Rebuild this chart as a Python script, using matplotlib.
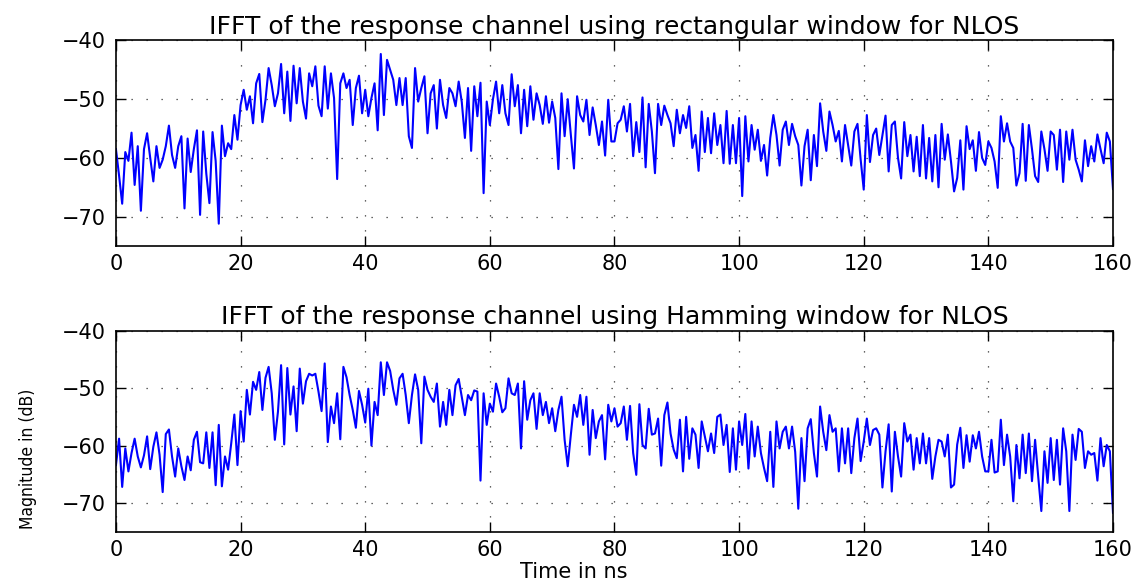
import numpy as np
import matplotlib
matplotlib.use("Agg")
import matplotlib.pyplot as plt

# ---- data (dB), sampled every 0.5 ns from 0 to 160 ns ----
rect_db = [
    -58.5, -63, -67.8, -59, -60.5, -55.7, -64.6, -58, -69, -58.5,
    -55.8, -60, -64, -58, -61.7, -60.3, -58, -54.5, -59.5, -61.7,
    -58, -56.3, -68.6, -56.7, -62.4, -58.5, -55.3, -69.7, -55.5, -62.7,
    -67.7, -55.6, -60.5, -71.2, -54.5, -59.7, -57.5, -58.5, -52.7, -56.9,
    -51, -48.4, -51.8, -49.5, -54.1, -47.3, -45.7, -53.9, -50.1, -44.7,
    -47.6, -51.2, -49, -44, -52.4, -45.3, -53.7, -44.3, -50.7, -44.7,
    -50.4, -53.3, -45.6, -47.8, -44.4, -51.1, -52.9, -44.4, -51.6, -45.6,
    -49.8, -63.6, -47.3, -45.6, -48.1, -46.7, -54.4, -48.1, -46, -52.4,
    -48.4, -52.9, -49.8, -47.3, -55.3, -42.3, -52.7, -43.3, -45, -46.7,
    -51, -46.4, -51, -46.4, -56.3, -58.3, -44.7, -50.4, -48.1, -46.1,
    -55.8, -49, -47.6, -55, -46.7, -51, -53.2, -48.1, -49, -51.2,
    -47, -50.5, -56.6, -48.1, -58.8, -47.8, -52.9, -47.2, -66, -50.4,
    -54.4, -50, -47, -52.4, -47.6, -52.4, -54.4, -45.75, -51.2, -47.6,
    -55.8, -48.4, -54.6, -47.8, -53.5, -49, -51, -54.2, -49.5, -54,
    -50.4, -53.2, -61.9, -49, -56.3, -50, -56.1, -61.8, -49.5, -52.7,
    -53.8, -50.1, -56.1, -51.4, -54.4, -57.8, -53.8, -59.6, -50.1, -57.2,
    -57.2, -54.1, -53.5, -51.2, -55.5, -50.8, -59.7, -53.9, -59, -49.7,
    -61.6, -50.8, -55.5, -62.6, -50.8, -54.4, -51.1, -52.7, -54.1, -58,
    -51.8, -55.8, -52.7, -54.9, -51.2, -58.3, -56.1, -62.2, -52.1, -59,
    -53.2, -59.2, -52.4, -57.8, -54.4, -60.9, -52, -61, -54.4, -60.9,
    -53.2, -66.5, -52.9, -60.6, -54.4, -58.6, -55.2, -60.5, -57.8, -63,
    -56.6, -52.7, -56.1, -61.3, -55.2, -53.8, -57.8, -54.2, -56.3, -57.8,
    -64.7, -58, -55.2, -63.8, -56.1, -61.4, -50.7, -55.5, -58.8, -52.1,
    -54.4, -57.2, -55.4, -60.6, -54.4, -57.8, -61.3, -55.5, -54.2, -60.2,
    -65.4, -52.7, -60.7, -56.1, -55, -59.5, -56.1, -52.8, -62.3, -54.4,
    -53.8, -60, -63.5, -53.9, -59.7, -56.1, -62.3, -56.4, -63.1, -54.4,
    -63.5, -56.6, -64, -56.1, -65, -54.2, -60.3, -56, -60.6, -65.7,
    -63.4, -57, -65.4, -54.6, -58.5, -57, -62.2, -55.6, -60, -61.2,
    -57.2, -58.3, -60.6, -65.1, -52.9, -57.2, -54.1, -57.2, -58.3, -64.7,
    -62.6, -54.2, -63.9, -54.4, -58.5, -63.1, -64.1, -55.5, -58.5, -62.2,
    -55.5, -56.1, -62, -55.2, -64.1, -55.5, -60.3, -55.2, -60.3, -62,
    -64, -57, -61.4, -58, -60.6, -56, -58.5, -60.9, -55.7, -57.2,
    -65.3,
]

hamming_db = [
    -63.4, -58.8, -67.2, -60.5, -64.5, -61.3, -58.8, -61.9, -63.8, -61.7,
    -58.4, -64.1, -60.2, -57.7, -61.6, -68.1, -58, -57.2, -61.9, -65.4,
    -60.5, -63.6, -66, -61.9, -64.3, -59, -57.6, -62.9, -63.1, -57.7,
    -63.9, -57.7, -66.9, -56.4, -67.1, -61.9, -64.2, -59.6, -54.6, -63.4,
    -54, -59.3, -50.3, -54.6, -48.9, -50.3, -47.2, -53.8, -48.2, -46.3,
    -50.9, -59, -54.1, -46, -59.8, -46.5, -54.6, -49.7, -57.5, -46.6,
    -52.7, -48.8, -47.5, -47.8, -47.5, -50.6, -54, -45.7, -59.4, -53.2,
    -56.1, -50.9, -58.9, -46.3, -48.1, -51.2, -53.8, -56.9, -50.5, -52.9,
    -56, -50.1, -60, -52.4, -54.7, -45.5, -51.2, -45.5, -47, -50.3,
    -52.9, -48.3, -47.5, -51.2, -56.1, -51.2, -47.6, -50.3, -59.6, -48,
    -50.3, -51.5, -52.4, -49.2, -56.7, -52.4, -56.4, -50.3, -54.7, -49.5,
    -48.4, -51.5, -54.7, -51.2, -52.1, -50.4, -50.6, -66.1, -50.9, -56.4,
    -52.7, -54.1, -49.2, -51.5, -54.2, -53.5, -48.3, -50.9, -51.2, -49.2,
    -60.5, -48.8, -55.5, -52.1, -50.9, -57.1, -50.9, -54.7, -52.4, -56.1,
    -53.5, -57.5, -53.8, -51.5, -59, -63.6, -58.1, -52.9, -55, -51.2,
    -56.4, -51.5, -61.6, -53.8, -58.7, -55.8, -54.7, -62.4, -52.9, -55.8,
    -53.5, -56.7, -56.1, -53.2, -59, -53.1, -61.3, -65.1, -52.8, -59.9,
    -60.5, -53.6, -58.1, -57.9, -55.3, -63.5, -54.7, -52.5, -57.9, -60.7,
    -62.2, -55.5, -64.5, -55, -62.3, -57, -58.1, -63.9, -55.8, -58.4,
    -61, -57.9, -61.3, -55, -54.6, -59.9, -56.4, -64.6, -57, -64.2,
    -55.8, -59.9, -54.5, -64, -55.8, -61.9, -56.7, -61.3, -63.9, -66.2,
    -57.6, -67.2, -55.8, -60.5, -57.6, -56.7, -60.5, -56.7, -61.1, -71,
    -58.7, -66.2, -57, -55.4, -61.3, -65.4, -53.2, -57.6, -60.8, -54.7,
    -57.6, -57, -64.5, -57, -63.1, -57, -64.8, -58.7, -55.3, -62.7,
    -59.3, -55.3, -59.9, -57.3, -57, -58.1, -67.3, -61, -56.3, -68,
    -57.6, -61.9, -65.4, -56.1, -59.3, -58.1, -64.2, -58.7, -63.1, -57.9,
    -63.1, -58.7, -65.8, -61.9, -59, -59.3, -61.9, -58.1, -67.3, -66.8,
    -59.8, -56.9, -63.9, -58.2, -62.8, -58.2, -60.5, -57.6, -61.9, -64.5,
    -64.5, -59, -64.7, -64.5, -55.5, -63.4, -58.1, -61.9, -69.7, -59.9,
    -65.7, -58.1, -64.8, -57.9, -66.2, -59, -65.4, -71.4, -61, -66.5,
    -58.7, -66, -59, -66.8, -57, -61, -71.4, -58.1, -62.5, -57.1,
    -57.6, -63.9, -61, -61.6, -61.3, -66.1, -58.7, -63.6, -59.9, -61,
    -71.7,
]

titles = [
    "IFFT of the response channel using rectangular window for NLOS",
    "IFFT of the response channel using Hamming window for NLOS",
]
x_ticks = [0, 20, 40, 60, 80, 100, 120, 140, 160]
y_ticks = [-70, -60, -50, -40]
x_label = "Time in ns"
y_label = "Magnitude in (dB)"

t_max = 160
series = [rect_db, hamming_db]

plt.rcParams['font.family'] = ['DejaVu Sans']
fig = plt.figure(figsize=(11.48, 5.85), dpi=100)
positions = [[0.101, 0.5795, 0.8685, 0.3513], [0.101, 0.0911, 0.8685, 0.3436]]

axes = []
for pos, vals, title in zip(positions, series, titles):
    ax = fig.add_axes(pos)
    t = np.linspace(0, t_max, len(vals))
    ax.plot(t, vals, color='#0000ff', lw=1.5)
    ax.set_xlim(0, t_max)
    ax.set_ylim(-75, -40)
    ax.set_xticks(x_ticks)
    ax.set_yticks(y_ticks)
    ax.set_yticklabels(['\u221270', '\u221260', '\u221250', '\u221240'])
    ax.tick_params(direction='in', top=True, right=True, length=7, width=1,
                   labelsize=15)
    ax.tick_params(axis='y', pad=7)
    ax.tick_params(axis='x', pad=6)
    ax.grid(True, color='#333333', linestyle=(0, (1, 11)), linewidth=0.9)
    for s in ax.spines.values():
        s.set_linewidth(1.2)
    ax.set_title(title, fontsize=18, pad=5)
    axes.append(ax)

fig.text(0.5, 0.022, x_label, ha='center', va='center', fontsize=15)
fig.text(0.024, 0.215, y_label, ha='center', va='center', rotation=90,
         fontsize=12.5, fontstretch='condensed',
         family=['DejaVu Sans Condensed', 'DejaVu Sans'])

fig.savefig("out.png", dpi=100)
